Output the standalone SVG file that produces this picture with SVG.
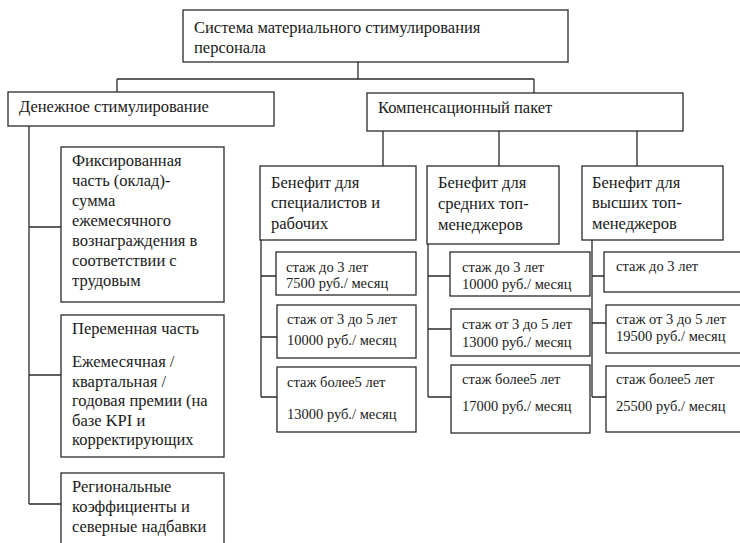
<svg xmlns="http://www.w3.org/2000/svg" width="740" height="543" viewBox="0 0 740 543">
<style>
.box{fill:#fff;stroke:#2a2a2a;stroke-width:1.3}
.ln{fill:none;stroke:#2a2a2a;stroke-width:1.3}
text{font-family:"Liberation Serif","DejaVu Serif",serif;fill:#1a1a1a}
.t{font-size:16.5px}
.s{font-size:14.5px}
</style>
<rect width="740" height="543" fill="#fff"/>
<g id="connectors">
<path class="ln" d="M358 62V79M117 79H534M117 79V92M534 79V93"/>
<path class="ln" d="M383 131V166M499 131V166M637 131V166"/>
<path class="ln" d="M29 126V504M29 227H61M29 375H61M29 504H61"/>
<path class="ln" d="M261 240V397M261 276H276M261 337H277M261 397H277"/>
<path class="ln" d="M428 244V397M428 276H450M428 329H451M428 397H451"/>
<path class="ln" d="M592 240V397M592 276H604M592 323H606M592 397H606"/>
</g>
<g id="root">
<rect class="box" x="183" y="10" width="385" height="52"/>
<text class="t" x="194" y="33">Система материального стимулирования</text>
<text class="t" x="194" y="53">персонала</text>
</g>
<g id="money">
<rect class="box" x="8" y="92" width="266" height="34"/>
<text class="t" x="19" y="112">Денежное стимулирование</text>
</g>
<g id="comp">
<rect class="box" x="367" y="93" width="316" height="38"/>
<text class="t" x="378" y="113">Компенсационный пакет</text>
</g>
<g id="fixed">
<rect class="box" x="61" y="147" width="163" height="155"/>
<text class="t" x="72"><tspan x="72" y="166">Фиксированная</tspan><tspan x="72" y="186">часть (оклад)-</tspan><tspan x="72" y="206">сумма</tspan><tspan x="72" y="226">ежемесячного</tspan><tspan x="72" y="246">вознаграждения в</tspan><tspan x="72" y="266">соответствии с</tspan><tspan x="72" y="286">трудовым</tspan></text>
</g>
<g id="variable">
<rect class="box" x="61" y="315" width="163" height="142"/>
<text class="t" x="72"><tspan x="72" y="334">Переменная часть</tspan><tspan x="72" y="367">Ежемесячная /</tspan><tspan x="72" y="387">квартальная /</tspan><tspan x="72" y="406">годовая премии (на</tspan><tspan x="72" y="426">базе KPI и</tspan><tspan x="72" y="445">корректирующих</tspan></text>
</g>
<g id="regional">
<rect class="box" x="61" y="473" width="163" height="80"/>
<text class="t" x="72"><tspan x="72" y="492">Региональные</tspan><tspan x="72" y="512">коэффициенты и</tspan><tspan x="72" y="532">северные надбавки</tspan></text>
</g>
<g id="ben1">
<rect class="box" x="260" y="166" width="156" height="74"/>
<text class="t" x="271"><tspan x="271" y="188">Бенефит для</tspan><tspan x="271" y="208">специалистов и</tspan><tspan x="271" y="229">рабочих</tspan></text>
</g>
<g id="ben2">
<rect class="box" x="427" y="166" width="132" height="78"/>
<text class="t" x="438"><tspan x="438" y="188">Бенефит для</tspan><tspan x="438" y="209">средних топ-</tspan><tspan x="438" y="230">менеджеров</tspan></text>
</g>
<g id="ben3">
<rect class="box" x="582" y="166" width="141" height="74"/>
<text class="t" x="592"><tspan x="592" y="188">Бенефит для</tspan><tspan x="592" y="208">высших топ-</tspan><tspan x="592" y="229">менеджеров</tspan></text>
</g>
<g id="s11">
<rect class="box" x="276" y="252" width="140" height="43"/>
<text class="s" x="286"><tspan x="286" y="272">стаж до 3 лет</tspan><tspan x="286" y="288">7500 руб./ месяц</tspan></text>
</g>
<g id="s12">
<rect class="box" x="277" y="305" width="139" height="53"/>
<text class="s" x="287"><tspan x="287" y="324">стаж от 3 до 5 лет</tspan><tspan x="287" y="345">10000 руб./ месяц</tspan></text>
</g>
<g id="s13">
<rect class="box" x="277" y="367" width="139" height="65"/>
<text class="s" x="287"><tspan x="287" y="387">стаж более5 лет</tspan><tspan x="287" y="419">13000 руб./ месяц</tspan></text>
</g>
<g id="s21">
<rect class="box" x="450" y="252" width="140" height="44"/>
<text class="s" x="462"><tspan x="462" y="272">стаж до 3 лет</tspan><tspan x="462" y="289">10000 руб./ месяц</tspan></text>
</g>
<g id="s22">
<rect class="box" x="451" y="309" width="139" height="47"/>
<text class="s" x="462"><tspan x="462" y="329">стаж от 3 до 5 лет</tspan><tspan x="462" y="347">13000 руб./ месяц</tspan></text>
</g>
<g id="s23">
<rect class="box" x="451" y="365" width="139" height="68"/>
<text class="s" x="462"><tspan x="462" y="384">стаж более5 лет</tspan><tspan x="462" y="411">17000 руб./ месяц</tspan></text>
</g>
<g id="s31">
<rect class="box" x="604" y="252" width="140" height="40"/>
<text class="s" x="616" y="271">стаж до 3 лет</text>
</g>
<g id="s32">
<rect class="box" x="606" y="305" width="138" height="48"/>
<text class="s" x="616"><tspan x="616" y="324">стаж от 3 до 5 лет</tspan><tspan x="616" y="341">19500 руб./ месяц</tspan></text>
</g>
<g id="s33">
<rect class="box" x="606" y="366" width="138" height="66"/>
<text class="s" x="616"><tspan x="616" y="384">стаж более5 лет</tspan><tspan x="616" y="411">25500 руб./ месяц</tspan></text>
</g>
</svg>
